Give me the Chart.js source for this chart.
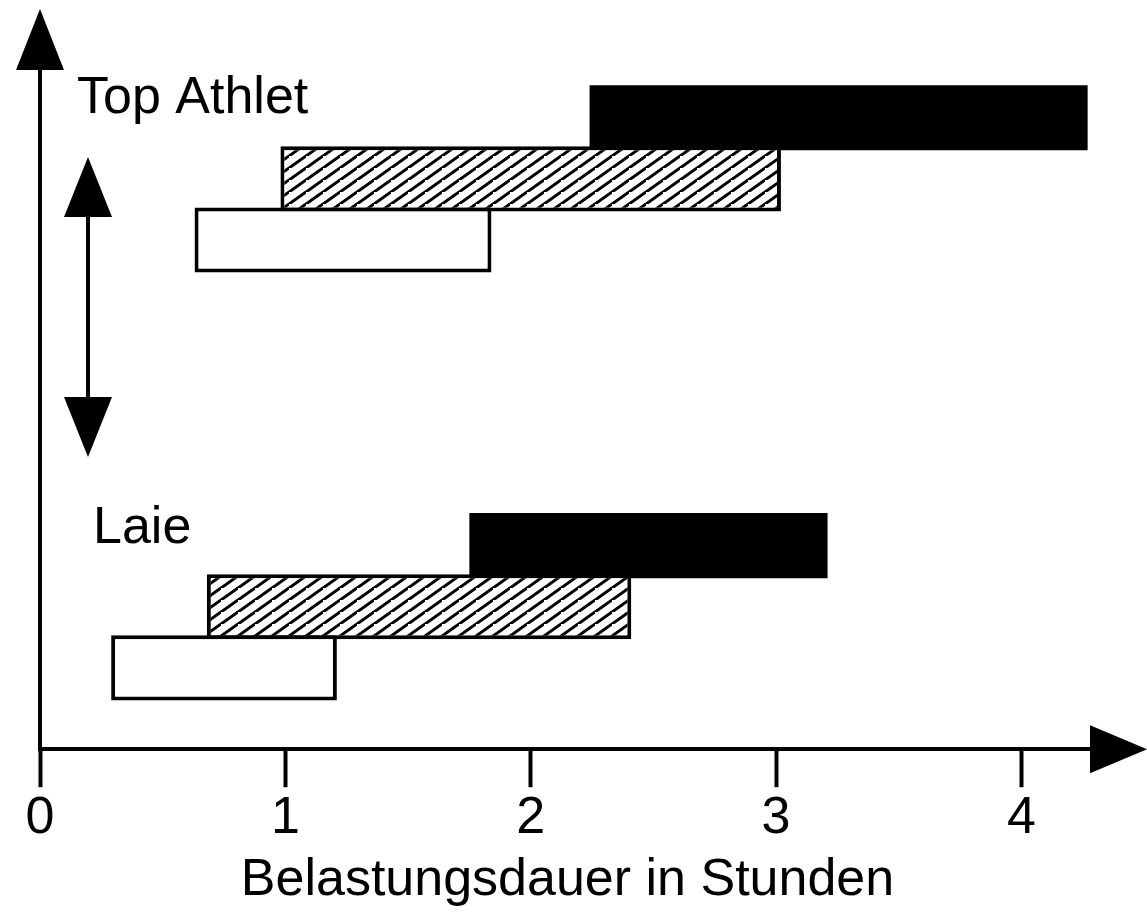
<!DOCTYPE html>
<html>
<head>
<meta charset="utf-8">
<script src="https://cdn.jsdelivr.net/npm/chart.js@4"></script>
<style>
  body { margin: 0; background: #fff; }
  #wrap { width: 1147px; height: 912px; position: relative; }
</style>
</head>
<body>
<div id="wrap"><canvas id="chart"></canvas></div>
<script>
// Dados
const groups = ['Laie', 'Top Athlet'];
const groupRow = [1, 8];                       // slot inferior de cada grupo no eixo y
const whiteBars = [[0.29, 1.21], [0.63, 1.84]];
const hatchBars = [[0.68, 2.41], [0.98, 3.02]];
const blackBars = [[1.75, 3.21], [2.24, 4.27]];
const xTicks = [0, 1, 2, 3, 4];
const xTitle = 'Belastungsdauer in Stunden';

const FONT = '"Liberation Sans", Arial, sans-serif';

// Padrão hachurado
function makeHatch() {
  const c = document.createElement('canvas');
  c.width = 17; c.height = 12;
  const g = c.getContext('2d');
  g.fillStyle = '#fff';
  g.fillRect(0, 0, 17, 12);
  g.strokeStyle = '#000';
  g.lineWidth = 3;
  g.beginPath();
  g.moveTo(-17, 24); g.lineTo(17, 0);
  g.moveTo(0, 12); g.lineTo(34, -12);
  g.moveTo(0, 24); g.lineTo(34, 0);
  g.stroke();
  return g.createPattern(c, 'repeat');
}

function rows(bars, shift) {
  return groups.map((g, i) => ({ x: bars[i], y: groupRow[i] + shift }));
}

// Setas e rótulos
const decor = {
  id: 'decor',
  afterDraw(chart) {
    const ctx = chart.ctx;
    const a = chart.chartArea;
    ctx.save();
    ctx.fillStyle = '#000';
    ctx.strokeStyle = '#000';
    ctx.lineWidth = 4;

    // eixo y
    ctx.beginPath();
    ctx.moveTo(a.left, a.bottom + 2);
    ctx.lineTo(a.left, 66);
    ctx.stroke();
    ctx.beginPath();
    ctx.moveTo(a.left, 9); ctx.lineTo(a.left + 24, 70); ctx.lineTo(a.left - 24, 70);
    ctx.closePath(); ctx.fill();

    // seta do eixo x
    ctx.beginPath();
    ctx.moveTo(1147, a.bottom); ctx.lineTo(1090, a.bottom - 24); ctx.lineTo(1090, a.bottom + 24);
    ctx.closePath(); ctx.fill();

    // seta dupla
    const ax = 88;
    ctx.beginPath();
    ctx.moveTo(ax, 210); ctx.lineTo(ax, 405);
    ctx.stroke();
    ctx.beginPath();
    ctx.moveTo(ax, 157); ctx.lineTo(ax + 24, 217); ctx.lineTo(ax - 24, 217);
    ctx.closePath(); ctx.fill();
    ctx.beginPath();
    ctx.moveTo(ax, 457); ctx.lineTo(ax + 24, 397); ctx.lineTo(ax - 24, 397);
    ctx.closePath(); ctx.fill();

    // rótulos dos grupos
    ctx.font = '52px ' + FONT;
    ctx.textBaseline = 'alphabetic';
    ctx.textAlign = 'left';
    ctx.fillText(groups[1], 77, 113);
    ctx.fillText(groups[0], 93, 543);
    ctx.restore();
  }
};

const barCommon = {
  borderColor: '#000',
  borderSkipped: false,
  barPercentage: 1.065,
  categoryPercentage: 1,
  grouped: false
};

new Chart(document.getElementById('chart'), {
  type: 'bar',
  data: {
    datasets: [
      Object.assign({ label: 'weiß', data: rows(whiteBars, 0), backgroundColor: '#fff', borderWidth: 4 }, barCommon),
      Object.assign({ label: 'schraffiert', data: rows(hatchBars, 1), backgroundColor: makeHatch(), borderWidth: 4 }, barCommon),
      Object.assign({ label: 'schwarz', data: rows(blackBars, 2), backgroundColor: '#000', borderWidth: 0 }, barCommon)
    ]
  },
  options: {
    indexAxis: 'y',
    responsive: true,
    maintainAspectRatio: false,
    animation: false,
    layout: { padding: { left: 40, right: 52, top: 9, bottom: 0 } },
    plugins: { legend: { display: false }, tooltip: { enabled: false } },
    scales: {
      y: {
        type: 'linear', min: -0.33, max: 11.78, offset: false, display: false,
        afterBuildTicks: s => { s.ticks = groupRow.map(v => ({ value: v })); }
      },
      x: {
        type: 'linear',
        min: 0,
        max: 4.3,
        afterBuildTicks: s => { s.ticks = xTicks.map(v => ({ value: v })); },
        border: { display: true, color: '#000', width: 4 },
        grid: { display: true, drawOnChartArea: false, drawTicks: true, tickLength: 38, tickWidth: 4, tickColor: '#000' },
        ticks: { color: '#000', padding: 0, font: { family: FONT, size: 52 } },
        title: { display: true, text: xTitle, color: '#000', padding: { top: 0, bottom: 0 }, font: { family: FONT, size: 52 } }
      }
    }
  },
  plugins: [decor]
});
</script>
</body>
</html>
